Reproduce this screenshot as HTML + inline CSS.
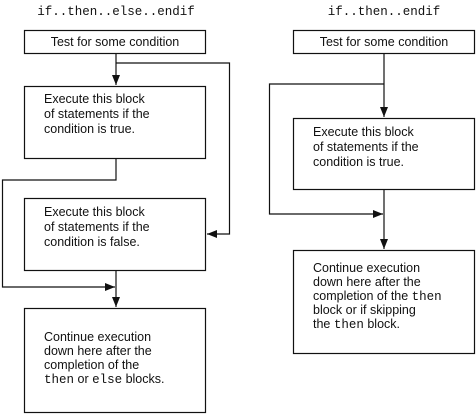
<html><head><style>body{margin:0;background:#fff}svg{display:block}text{font-family:"Liberation Sans",sans-serif;font-size:12.5px;fill:#111}.m{font-family:"Liberation Mono",monospace}</style></head><body>
<svg width="476" height="414" viewBox="0 0 476 414">
<defs><marker id="a" markerWidth="10" markerHeight="8" refX="10" refY="4" orient="auto" markerUnits="userSpaceOnUse"><path d="M0,0 L10,4 L0,8 z" fill="#111"/></marker></defs>
<g fill="none" stroke="#111" stroke-width="1.2">
<rect x="24.5" y="30.5" width="181" height="23"/>
<rect x="24.5" y="86.5" width="181" height="72"/>
<rect x="24.5" y="198.5" width="181" height="72"/>
<rect x="24.5" y="308.5" width="181" height="104"/>
<path d="M116 54 V85" marker-end="url(#a)"/>
<path d="M116 63 H229.5 V234 H207" marker-end="url(#a)"/>
<path d="M116 159 V180 H2.5 V287 H115" marker-end="url(#a)"/>
<path d="M116 271 V307" marker-end="url(#a)"/>
<rect x="293.5" y="30.5" width="181" height="23"/>
<rect x="293.5" y="118.5" width="181" height="71"/>
<rect x="293.5" y="250.5" width="181" height="103"/>
<path d="M384 54 V117" marker-end="url(#a)"/>
<path d="M384 84 H269.5 V214 H383" marker-end="url(#a)"/>
<path d="M384 190 V249" marker-end="url(#a)"/>
</g>
<text class="m" x="116" y="15" text-anchor="middle">if..then..else..endif</text>
<text class="m" x="384" y="15" text-anchor="middle">if..then..endif</text>
<text x="115" y="46" text-anchor="middle">Test for some condition</text>
<text x="384" y="46" text-anchor="middle">Test for some condition</text>
<text x="44"><tspan x="44" y="103">Execute this block</tspan><tspan x="44" y="118">of statements if the</tspan><tspan x="44" y="133">condition is true.</tspan></text>
<text x="44"><tspan x="44" y="216">Execute this block</tspan><tspan x="44" y="231">of statements if the</tspan><tspan x="44" y="246">condition is false.</tspan></text>
<text x="44"><tspan x="44" y="341">Continue execution</tspan><tspan x="44" y="355">down here after the</tspan><tspan x="44" y="369">completion of the</tspan><tspan x="44" y="383"><tspan class="m">then</tspan> or <tspan class="m">else</tspan> blocks.</tspan></text>
<text x="313"><tspan x="313" y="136">Execute this block</tspan><tspan x="313" y="151">of statements if the</tspan><tspan x="313" y="166">condition is true.</tspan></text>
<text x="313"><tspan x="313" y="272">Continue execution</tspan><tspan x="313" y="286">down here after the</tspan><tspan x="313" y="300">completion of the <tspan class="m">then</tspan></tspan><tspan x="313" y="314">block or if skipping</tspan><tspan x="313" y="328">the <tspan class="m">then</tspan> block.</tspan></text>
</svg></body></html>
